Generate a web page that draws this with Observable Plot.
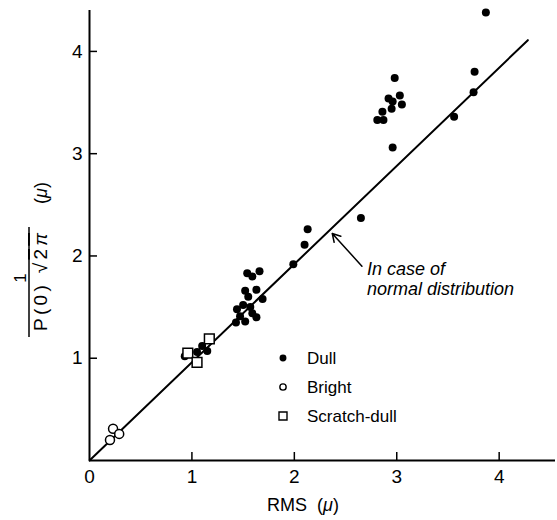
<!DOCTYPE html>
<html><head><meta charset="utf-8">
<script src="https://cdn.jsdelivr.net/npm/d3@7"></script>
<script src="https://cdn.jsdelivr.net/npm/@observablehq/plot@0.6"></script>
<style>
body{margin:0;background:#fff}
#chart{position:relative;width:557px;height:520px}
</style>
</head><body><div id="chart"></div>
<script>
// ---- data (RMS in μ, 1/(P(0)√2π) in μ) ----
const dullX = [0.93,1.05,1.10,1.15,
  1.54,1.59,1.66,1.52,1.63,1.55,1.69,1.44,1.50,1.57,1.47,1.59,1.43,1.52,1.63,
  1.99,2.10,2.13,2.65,
  2.98,2.92,3.03,2.96,3.05,2.95,2.86,2.81,2.87,2.96,3.56,3.75,3.76,3.87];
const dullY = [1.02,1.06,1.12,1.07,
  1.83,1.80,1.85,1.66,1.67,1.60,1.58,1.48,1.52,1.50,1.41,1.44,1.35,1.36,1.40,
  1.92,2.11,2.26,2.37,
  3.74,3.54,3.57,3.51,3.48,3.44,3.41,3.33,3.33,3.06,3.36,3.60,3.80,4.38];
const brightX = [0.20,0.23,0.29];
const brightY = [0.20,0.31,0.26];
const scratchX = [0.96,1.05,1.17];
const scratchY = [1.05,0.96,1.19];
const lineX = [0, 4.28];
const lineY = [0, 4.11];
const xTicks = [1,2,3,4];
const xTickLabels = [0,1,2,3,4];
const yTicks = [1,2,3,4];
const legendLabels = ["Dull","Bright","Scratch-dull"];
const noteLines = ["In case of","normal distribution"];
const noteArrow = {x1:2.66, y1:1.90, x2:2.37, y2:2.22};
const noteAt = {x:2.71, y:1.78};

const zip = (xs, ys) => xs.map((x,i)=>({x, y: ys[i]}));
const dull = zip(dullX, dullY), bright = zip(brightX, brightY), scratch = zip(scratchX, scratchY);
const normalLine = zip(lineX, lineY);

const FONT = "Liberation Sans, Arial, sans-serif";

const plot = Plot.plot({
  width: 557, height: 520,
  marginLeft: 89, marginRight: 2, marginTop: 10, marginBottom: 60,
  x: {domain: [0, 4.55]},
  y: {domain: [0, 4.4]},
  style: {fontFamily: FONT, fontSize: "19px", color: "#000", background: "#fff", overflow: "visible"},
  marks: [
    Plot.ruleY([0], {strokeWidth: 2}),
    Plot.ruleX([0], {strokeWidth: 2}),
    Plot.line(normalLine, {x: "x", y: "y", stroke: "black", strokeWidth: 2}),
    Plot.axisX(xTicks, {tickSize: 8, dy: -8, tickFormat: () => "", label: null, strokeWidth: 1.5}),
    Plot.axisX(xTickLabels, {tickSize: 0, tickPadding: 9, label: null, fontSize: 19, tickFormat: d3.format("d")}),
    Plot.ruleY(yTicks, {x1: () => 0, x2: () => 0, insetRight: -8, strokeWidth: 1.5}),
    Plot.axisY(yTicks, {tickSize: 0, tickPadding: 7, label: null, fontSize: 19, tickFormat: d3.format("d")}),
    Plot.arrow([noteArrow], {x1: "x1", y1: "y1", x2: "x2", y2: "y2", stroke: "black", strokeWidth: 1.5, headLength: 9, bend: 0}),
    Plot.text([noteLines.join("\n")], {x: () => noteAt.x, y: () => noteAt.y, text: d => d, textAnchor: "start", lineAnchor: "middle", fontSize: 18, lineHeight: 1.1, fill: "black", fontStyle: "italic"}),
    Plot.dot(dull, {x: "x", y: "y", r: 4, fill: "black", stroke: null}),
    Plot.dot(bright, {x: "x", y: "y", r: 4.5, fill: "white", stroke: "black", strokeWidth: 1.5}),
    Plot.dot(scratch, {x: "x", y: "y", r: 5.5, symbol: "square", fill: "white", stroke: "black", strokeWidth: 1.5})
  ]
});
document.getElementById("chart").appendChild(plot);

const svg = d3.select(plot);
// x axis title
const xt = svg.append("text").attr("x", 303).attr("y", 511).attr("text-anchor", "middle")
  .attr("font-family", FONT).attr("font-size", 18).attr("fill", "black");
xt.append("tspan").text("RMS  (");
xt.append("tspan").attr("font-style", "italic").text("μ");
xt.append("tspan").text(")");

// y axis title: rotated fraction
const g = svg.append("g").attr("transform", "translate(0,282) rotate(-90)")
  .attr("font-family", FONT).attr("fill", "black");
g.append("text").attr("x", 4).attr("y", 20).attr("text-anchor", "middle").attr("dominant-baseline", "central")
  .attr("font-size", 17).text("1");
g.append("line").attr("x1", -55).attr("x2", 55).attr("y1", 29).attr("y2", 29).attr("stroke", "black").attr("stroke-width", 1.5);
const den = g.append("text").attr("x", 0).attr("y", 40).attr("text-anchor", "middle").attr("dominant-baseline", "central")
  .attr("font-size", 19).attr("textLength", 98).attr("lengthAdjust", "spacing");
den.append("tspan").text("P(0) √");
den.append("tspan").style("text-decoration", "overline").text("2");
den.append("tspan").style("text-decoration", "overline").attr("font-style", "italic").text("π");
const mu = g.append("text").attr("x", 89).attr("y", 41).attr("text-anchor", "middle").attr("dominant-baseline", "central")
  .attr("font-size", 18);
mu.append("tspan").text("(");
mu.append("tspan").attr("font-style", "italic").text("μ");
mu.append("tspan").text(")");

// legend
const leg = svg.append("g").attr("font-family", FONT).attr("font-size", 17).attr("fill", "black").attr("text-anchor", "start");
const sym = [d3.symbolCircle, d3.symbolCircle, d3.symbolSquare];
legendLabels.forEach((lab, i) => {
  const y = 358 + i * 29;
  const p = leg.append("path").attr("transform", `translate(283,${y})`)
    .attr("d", d3.symbol(sym[i], i === 0 ? Math.PI * 12 : i === 1 ? Math.PI * 10 : 64)());
  if (i === 0) p.attr("fill", "black");
  else p.attr("fill", "white").attr("stroke", "black").attr("stroke-width", 1.4);
  leg.append("text").attr("x", 307).attr("y", y).attr("text-anchor", "start").attr("dominant-baseline", "central").text(lab);
});
</script>
</body></html>
